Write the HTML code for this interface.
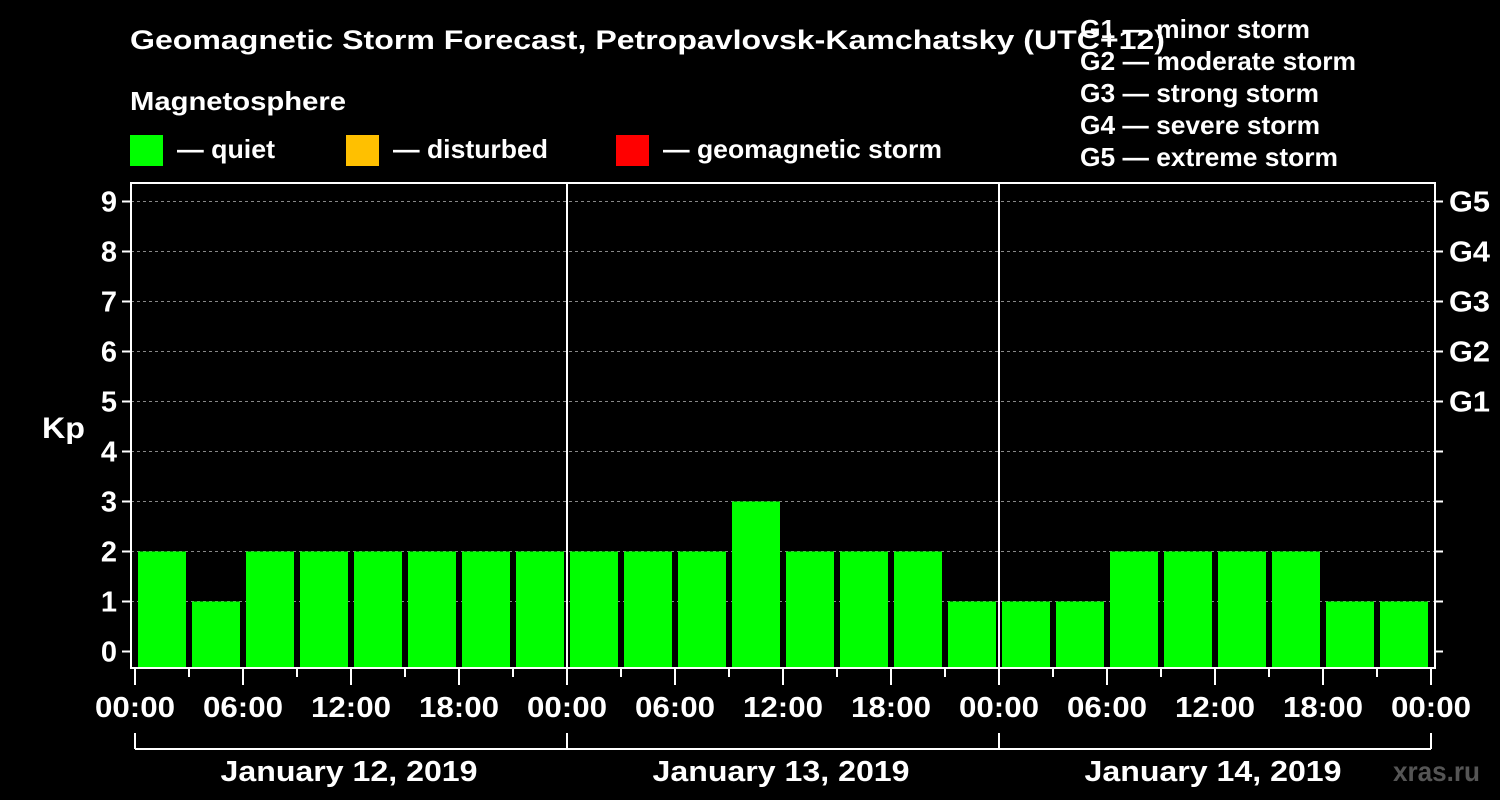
<!DOCTYPE html>
<html><head><meta charset="utf-8"><style>
body{margin:0;background:#000;}
svg{display:block;font-family:"Liberation Sans",Arial,sans-serif;font-weight:bold;}
</style></head><body>
<svg id="chart" width="1500" height="800" viewBox="0 0 1500 800">
<rect width="1500" height="800" fill="#000"/>
<text x="130" y="49" fill="#fff" font-size="27" textLength="1035" lengthAdjust="spacingAndGlyphs">Geomagnetic Storm Forecast, Petropavlovsk-Kamchatsky (UTC+12)</text>
<text x="130" y="110" fill="#fff" font-size="26" textLength="216" lengthAdjust="spacingAndGlyphs">Magnetosphere</text>
<g><rect x="130" y="135" width="33" height="31" fill="#00ff00"/><text x="177" y="158" fill="#fff" font-size="26" textLength="98" lengthAdjust="spacingAndGlyphs">— quiet</text></g>
<g><rect x="346" y="135" width="33" height="31" fill="#ffc000"/><text x="393" y="158" fill="#fff" font-size="26" textLength="155" lengthAdjust="spacingAndGlyphs">— disturbed</text></g>
<g><rect x="616" y="135" width="33" height="31" fill="#ff0000"/><text x="663" y="158" fill="#fff" font-size="26" textLength="279" lengthAdjust="spacingAndGlyphs">— geomagnetic storm</text></g>
<g fill="#fff" font-size="26">
<text x="1080" y="38" textLength="230" lengthAdjust="spacingAndGlyphs">G1 — minor storm</text>
<text x="1080" y="70" textLength="276" lengthAdjust="spacingAndGlyphs">G2 — moderate storm</text>
<text x="1080" y="102" textLength="239" lengthAdjust="spacingAndGlyphs">G3 — strong storm</text>
<text x="1080" y="134" textLength="240" lengthAdjust="spacingAndGlyphs">G4 — severe storm</text>
<text x="1080" y="166" textLength="258" lengthAdjust="spacingAndGlyphs">G5 — extreme storm</text>
</g>
<text x="42" y="438" fill="#fff" font-size="30" textLength="43" lengthAdjust="spacingAndGlyphs">Kp</text>
<text x="1393" y="781" fill="#555" font-size="28" textLength="87" lengthAdjust="spacingAndGlyphs">xras.ru</text>
<g id="plot"></g>
</svg>
<script>
const kpValues=[2,1,2,2,2,2,2,2, 2,2,2,3,2,2,2,1, 1,1,2,2,2,2,1,1];
const dayLabels=["January 12, 2019","January 13, 2019","January 14, 2019"];
const hourLabels=["00:00","06:00","12:00","18:00"];
const yTicks=[0,1,2,3,4,5,6,7,8,9];
const gLabels=["G1","G2","G3","G4","G5"];
const NS="http://www.w3.org/2000/svg";
const g=document.getElementById('plot');
const X0=135,SLOT=54,Y0=651.5,UNIT=50,FL=131,FR=1435,FT=183,FB=668;
const xs=i=>X0+i*SLOT, ys=v=>Y0-v*UNIT;
function mk(t,a,p){const e=document.createElementNS(NS,t);for(const k in a)e.setAttribute(k,a[k]);(p||g).appendChild(e);return e;}
yTicks.forEach(v=>{
 if(v>0){const gl=mk('line',{x1:FL,x2:FR,y1:ys(v),y2:ys(v),stroke:'#888','stroke-dasharray':'3,3','stroke-width':1});
 
 }
 const t=mk('line',{x1:FL-9,x2:FL,y1:ys(v),y2:ys(v),stroke:'#fff','stroke-width':2});
 
 
 const r=mk('line',{x1:FR,x2:FR+8,y1:ys(v),y2:ys(v),stroke:'#fff','stroke-width':2});
 
 
 const l=mk('text',{x:FL-14,y:ys(v)+10,fill:'#fff','font-size':29,'text-anchor':'end'});l.textContent=v;
 
 
});
gLabels.forEach((s,i)=>{const t=mk('text',{x:1449,y:ys(5+i)+10,fill:'#fff','font-size':29,textLength:41,lengthAdjust:'spacingAndGlyphs'});t.textContent=s;
 
 });
kpValues.forEach((v,i)=>{
 const c=v>=5?'#ff0000':(v>=4?'#ffc000':'#00ff00');
 const b=mk('rect',{x:xs(i)+3,y:ys(v),width:SLOT-6,height:FB-ys(v),fill:c});
 
 
});
const fr=mk('rect',{x:FL,y:FT,width:FR-FL,height:FB-FT,fill:'none',stroke:'#fff','stroke-width':2});


for(let d=1;d<dayLabels.length;d++){const l=mk('line',{x1:xs(d*8),x2:xs(d*8),y1:FT,y2:FB,stroke:'#fff','stroke-width':2});
 
 }
for(let i=0;i<=kpValues.length;i++){
 const major=i%2===0;
 const t=mk('line',{x1:xs(i),x2:xs(i),y1:FB,y2:FB+(major?17:9),stroke:'#fff','stroke-width':2});
 
 
 if(major){const l=mk('text',{x:xs(i),y:717,fill:'#fff','font-size':29,'text-anchor':'middle',textLength:80,lengthAdjust:'spacingAndGlyphs'});
 l.textContent=hourLabels[(i/2)%4];
 
 }
}
mk('line',{x1:xs(0),x2:xs(24),y1:749,y2:749,stroke:'#fff','stroke-width':2});
dayLabels.forEach((s,d)=>{
 const v=mk('line',{x1:xs(d*8),x2:xs(d*8),y1:733,y2:749,stroke:'#fff','stroke-width':2});
 
 
 const t=mk('text',{x:xs(d*8+4)-2,y:781,fill:'#fff','font-size':29,'text-anchor':'middle',textLength:257,lengthAdjust:'spacingAndGlyphs'});t.textContent=s;
 
 
});
mk('line',{x1:xs(24),x2:xs(24),y1:733,y2:749,stroke:'#fff','stroke-width':2});
</script>
</body></html>
